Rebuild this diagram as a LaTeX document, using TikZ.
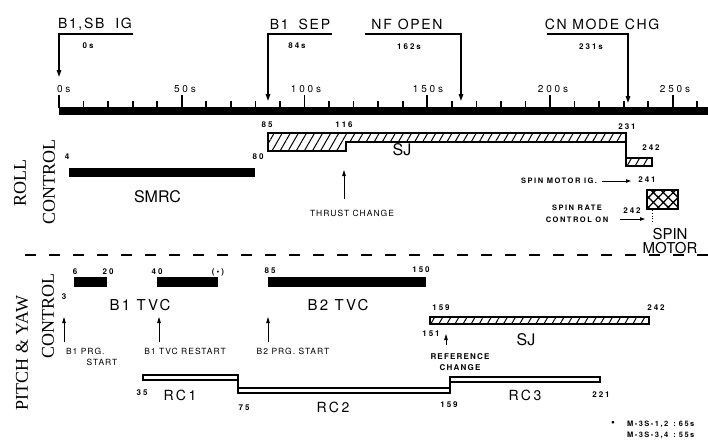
\documentclass[tikz,border=0pt]{standalone}
\usepackage{fontspec}
\setmainfont{TeX Gyre Heros}
\newfontfamily\serf{Liberation Serif}
\usetikzlibrary{arrows.meta,patterns.meta}
\newcommand\fs[2]{\fontsize{#1}{#2}\selectfont}
\newcommand\ls[1]{\addfontfeature{LetterSpace=#1}}
\tikzset{
  every node/.style={inner sep=0pt,outer sep=0pt},
  evt/.style={font=\fs{14}{16}\ls{12}},
  evs/.style={font=\bfseries\fs{8}{9}\ls{25}},
  tlab/.style={font=\fs{10}{12}\ls{28}},
  num/.style={font=\bfseries\fs{8}{9}\ls{25}},
  bigA/.style={font=\fs{16}{18}},
  bigB/.style={font=\fs{15}{18}\ls{15}},
  note/.style={font=\fs{8.5}{11}\ls{12},align=center},
  foot/.style={font=\bfseries\fs{7.5}{8}\ls{20},anchor=west},
  side/.style={font=\serf\fs{18}{20},rotate=90},
  tickline/.style={draw=black,line width=1.7pt},
  evline/.style={line width=1.4pt,line join=miter,-{Triangle[length=7pt,width=4.5pt]}},
  uparrow/.style={line width=0.9pt,-{Triangle[length=6pt,width=3.5pt]}},
  rarrow/.style={line width=0.9pt,-{Triangle[length=5pt,width=3.5pt]}},
  boxline/.style={draw,line width=1.1pt},
  hatch/.style={boxline,pattern={Lines[angle=60,distance=7pt,line width=1pt]}},
  xhatch/.style={draw,line width=1.5pt,pattern={Hatch[angle=45,distance=7pt,line width=1.3pt]}},
}
\begin{document}
\begin{tikzpicture}[x=1pt,y=-1pt]
\useasboundingbox (0,0) rectangle (708,440);
% ---------- time axis ----------
\path[fill=black] (59,106.5) rectangle (708,115);
\path[tickline]
  (59,108) -- (59,95)
  (83.55,108) -- (83.55,100.5)
  (108.1,108) -- (108.1,100.5)
  (132.65,108) -- (132.65,100.5)
  (157.2,108) -- (157.2,100.5)
  (181.75,108) -- (181.75,95)
  (206.3,108) -- (206.3,100.5)
  (230.85,108) -- (230.85,100.5)
  (255.4,108) -- (255.4,100.5)
  (279.95,108) -- (279.95,100.5)
  (304.5,108) -- (304.5,95)
  (329.05,108) -- (329.05,100.5)
  (353.6,108) -- (353.6,100.5)
  (378.15,108) -- (378.15,100.5)
  (402.7,108) -- (402.7,100.5)
  (427.25,108) -- (427.25,95)
  (451.8,108) -- (451.8,100.5)
  (476.35,108) -- (476.35,100.5)
  (500.9,108) -- (500.9,100.5)
  (525.45,108) -- (525.45,100.5)
  (550,108) -- (550,95)
  (574.55,108) -- (574.55,100.5)
  (599.1,108) -- (599.1,100.5)
  (623.65,108) -- (623.65,100.5)
  (648.2,108) -- (648.2,100.5)
  (672.75,108) -- (672.75,95)
  (697.3,108) -- (697.3,100.5);
\node[tlab,anchor=west] (t0) at (57,89) {0s};
\node[tlab] (t50) at (185,89) {50s};
\node[tlab] (t100) at (306,89) {100s};
\node[tlab] (t150) at (428,89) {150s};
\node[tlab] (t200) at (553,89) {200s};
\node[tlab] (t250) at (675,89) {250s};
% ---------- events ----------
\node[evt,anchor=west] (ev1) at (58,24) {B1,SB\hspace{11pt}IG};
\node[evs] (ev1t) at (88,46) {0s};
\coordinate (e1a) at (133,34); \coordinate (e1b) at (59,34); \coordinate (e1c) at (59,77);
\draw[evline] (e1a) -- (e1b) -- (e1c);
\node[evt] (ev2) at (300,24) {B1\hspace{10pt}SEP};
\node[evs] (ev2t) at (297,46) {84s};
\coordinate (e2a) at (332,34); \coordinate (e2b) at (268,34); \coordinate (e2c) at (268,101);
\draw[evline] (e2a) -- (e2b) -- (e2c);
\node[evt] (ev3) at (407,24) {NF\hspace{6pt}OPEN};
\node[evs] (ev3t) at (409,47) {162s};
\coordinate (e3a) at (365,34); \coordinate (e3b) at (461,34); \coordinate (e3c) at (461,101);
\draw[evline] (e3a) -- (e3b) -- (e3c);
\node[evt] (ev4) at (602,24) {CN MODE CHG};
\node[evs] (ev4t) at (591,47) {231s};
\coordinate (e4a) at (547,34); \coordinate (e4b) at (628,34); \coordinate (e4c) at (628,103);
\draw[evline] (e4a) -- (e4b) -- (e4c);
% ---------- roll control ----------
\node[side] (roll1) at (20,183) {ROLL};
\node[side] (roll2) at (49,182) {CONTROL};
\fill (69,168) rectangle (255,177);
\node[num] (n4) at (67,157) {4};
\node[num] (n80) at (258,157) {80};
\node[bigA] (smrc) at (157.5,197) {SMRC};
\path[hatch] (268,133) -- (626,133) -- (626,142) -- (346,142) -- (346,151) -- (268,151) -- cycle;
\draw[line width=1.1pt] (626,142) -- (626,158);
\path[hatch] (626,158) rectangle (652,166);
\node[num] (n85) at (267,125) {85};
\node[num] (n116) at (344,125) {116};
\node[num] (n231) at (627,127) {231};
\node[num] (n242a) at (651,148) {242};
\node[bigA] (sj1) at (402,150) {SJ};
\node[note] (thrust) at (352,213) {THRUST CHANGE};
\coordinate (thA) at (344,199); \coordinate (thB) at (344,170);
\draw[uparrow] (thA) -- (thB);
\node[note,font=\bfseries\fs{7.5}{11}\ls{20},anchor=east] (smig) at (597,181) {SPIN MOTOR IG.};
\coordinate (smA) at (602,181); \coordinate (smB) at (631,181);
\draw[rarrow] (smA) -- (smB);
\node[num] (n241) at (647,180) {241};
\path[xhatch] (647,190) rectangle (678,209);
\draw[dotted,line width=0.8pt] (652,210) -- (652,224);
\node[note,font=\bfseries\fs{7.5}{12}\ls{20}] (srate) at (577,214) {SPIN RATE\\CONTROL ON};
\node[num] (n242b) at (632,211) {242};
\coordinate (srA) at (620,219); \coordinate (srB) at (645,219);
\draw[rarrow] (srA) -- (srB);
\node[bigA,align=center,font=\fs{15}{14}] (spinm) at (670,241) {SPIN\\MOTOR};
% ---------- separator ----------
\draw[line width=1.3pt,dash pattern=on 11pt off 13pt] (25,255) -- (708,255);
% ---------- pitch & yaw ----------
\node[side] (py1) at (22,353) {PITCH \& YAW};
\node[side] (py2) at (48,316) {CONTROL};
\fill (73.5,277) rectangle (107,287);
\fill (157,277) rectangle (218,287);
\fill (268,277) rectangle (426,287);
\node[num] (p6) at (75,272) {6};
\node[num] (p20) at (108,272) {20};
\node[num] (p40) at (157,272) {40};
\node[num] (pst) at (218,272) {(•)};
\node[num] (p85) at (270,271) {85};
\node[num] (p150) at (421,270) {150};
\node[num] (p3) at (64,297) {3};
\node[bigB] (b1tvc) at (140,305) {B1 TVC};
\node[bigB] (b2tvc) at (338,305) {B2 TVC};
\coordinate (u1a) at (64,342); \coordinate (u1b) at (64,317);
\draw[uparrow] (u1a) -- (u1b);
\coordinate (u2a) at (159,342); \coordinate (u2b) at (159,317);
\draw[uparrow] (u2a) -- (u2b);
\coordinate (u3a) at (268,342); \coordinate (u3b) at (268,317);
\draw[uparrow] (u3a) -- (u3b);
\node[note,anchor=west] (b1prg) at (66,351) {B1 PRG.};
\node[note] (b1start) at (102,362) {START};
\node[note] (b1rest) at (185,351) {B1 TVC RESTART};
\node[note] (b2prg) at (293,351) {B2 PRG. START};
% SJ pitch
\path[hatch] (430,317) rectangle (649,324);
\node[num] (q159) at (441,308) {159};
\node[num] (q242) at (656,308) {242};
\node[num] (q151) at (431,334) {151};
\coordinate (rfA) at (446,345); \coordinate (rfB) at (446,334);
\draw[uparrow] (rfA) -- (rfB);
\node[bigA] (sj2) at (526,340) {SJ};
\node[note,font=\bfseries\fs{8}{10.5}\ls{15}] (refch) at (460,362) {REFERENCE\\CHANGE};
% RC
\draw[line width=1.1pt] (143,375) rectangle (238,380);
\draw[line width=1.1pt] (238,375) -- (238,393);
\draw[line width=1.1pt] (238,388) rectangle (450,393);
\draw[line width=1.1pt] (450,377) -- (450,393);
\draw[line width=1.1pt] (450,377) rectangle (600,382);
\node[num] (r35) at (142,393) {35};
\node[bigB,font=\fs{14}{16}\ls{18}] (rc1) at (180,395) {RC1};
\node[num] (r75) at (244,408) {75};
\node[bigB,font=\fs{14}{16}\ls{18}] (rc2) at (333,407) {RC2};
\node[num] (r159) at (449,405) {159};
\node[bigB,font=\fs{14}{16}\ls{18}] (rc3) at (525,395) {RC3};
\node[num] (r221) at (601,395) {221};
% footnote
\node[font=\fs{11}{11}] (bul) at (613,424) {•};
\node[foot] (f1) at (627,424) {M-3S-1,2\hspace{5pt}:\hspace{3pt}65s};
\node[foot] (f2) at (627,435) {M-3S-3,4\hspace{5pt}:\hspace{3pt}55s};
\end{tikzpicture}
\end{document}
